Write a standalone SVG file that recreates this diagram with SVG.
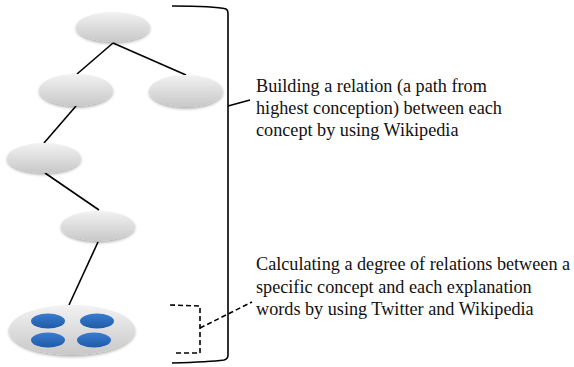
<svg xmlns="http://www.w3.org/2000/svg" width="574" height="367" viewBox="0 0 574 367">
<defs>
<linearGradient id="g" x1="0" y1="0" x2="0" y2="1">
<stop offset="0" stop-color="#f2f2f2"/>
<stop offset="1" stop-color="#c8c8c8"/>
</linearGradient>
<linearGradient id="b" x1="0" y1="0" x2="0" y2="1">
<stop offset="0" stop-color="#3a7cd0"/>
<stop offset="1" stop-color="#1f5ba8"/>
</linearGradient>
<filter id="sh" x="-20%" y="-20%" width="140%" height="150%">
<feGaussianBlur in="SourceAlpha" stdDeviation="1.5"/>
<feOffset dy="1.5"/>
<feComponentTransfer><feFuncA type="linear" slope="0.3"/></feComponentTransfer>
<feMerge><feMergeNode/><feMergeNode in="SourceGraphic"/></feMerge>
</filter>
</defs>
<style>
.n{fill:url(#g);filter:url(#sh)}
.w{fill:url(#b)}
.e{stroke:#000;stroke-width:1.6;fill:none}
.d{stroke:#000;stroke-width:1.6;fill:none;stroke-dasharray:5 3}
.t{font-family:"Liberation Serif",serif;font-size:18.2px;fill:#111}
</style>
<g id="connectors">
<line class="e" x1="113" y1="43" x2="77" y2="74"/>
<line class="e" x1="113" y1="43" x2="186" y2="75"/>
<line class="e" x1="76" y1="106" x2="44" y2="143"/>
<line class="e" x1="45" y1="173" x2="99" y2="210"/>
<line class="e" x1="98" y1="242" x2="69" y2="305"/>
</g>
<g id="n1"><ellipse class="n" cx="113" cy="27" rx="37" ry="15"/></g>
<g id="n2"><ellipse class="n" cx="76" cy="90" rx="37" ry="16"/></g>
<g id="n3"><ellipse class="n" cx="186" cy="91" rx="37" ry="16"/></g>
<g id="n4"><ellipse class="n" cx="44" cy="158" rx="37" ry="15"/></g>
<g id="n5"><ellipse class="n" cx="98" cy="226" rx="37" ry="15"/></g>
<g id="n6">
<ellipse class="n" cx="72" cy="330" rx="63" ry="25"/>
<ellipse class="w" cx="48" cy="321" rx="17" ry="7.5"/>
<ellipse class="w" cx="97" cy="321" rx="17" ry="7.5"/>
<ellipse class="w" cx="48" cy="340" rx="17" ry="7.5"/>
<ellipse class="w" cx="94" cy="340" rx="17" ry="7.5"/>
</g>
<g id="bracket">
<path class="e" d="M172 6 Q215 6 226 9 Q228 10 228 13 L228 355 Q228 359 224 360 Q210 362 172 363"/>
<line class="e" x1="228" y1="106" x2="250" y2="100"/>
</g>
<g id="dashbracket">
<path class="d" d="M170 305 L200 306 L200 353 L174 353"/>
<line class="d" x1="200" y1="328" x2="252" y2="302"/>
</g>
<g id="label1">
<text class="t" x="256" y="92">Building a relation (a path from</text>
<text class="t" x="256" y="114">highest conception) between each</text>
<text class="t" x="256" y="136">concept by using Wikipedia</text>
</g>
<g id="label2">
<text class="t" x="256" y="270">Calculating a degree of relations between a</text>
<text class="t" x="256" y="293">specific concept and each explanation</text>
<text class="t" x="256" y="315">words by using Twitter and Wikipedia</text>
</g>
</svg>
